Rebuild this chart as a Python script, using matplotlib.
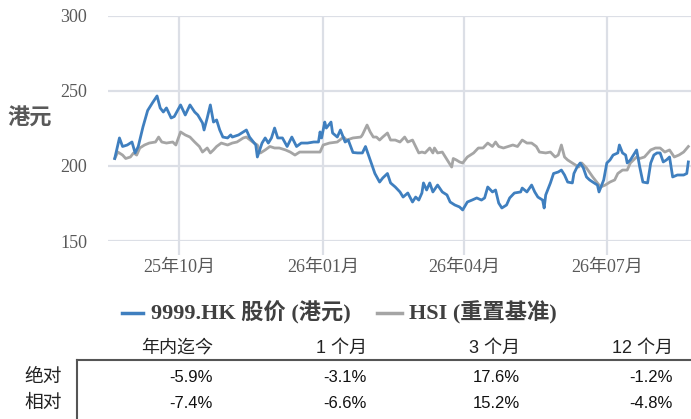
import numpy as np
import pandas as pd
import matplotlib
matplotlib.use('Agg')
from matplotlib import pyplot as plt
import matplotlib.dates as mdates

# days counted from 2025-10-01
stock_days = [-41, -38, -36, -33, -30, -28, -26, -23, -20, -17,
              -14, -12, -10, -8, -5, -3, 1, 4, 7, 10,
              12, 15, 16, 18, 20, 22, 24, 26, 28, 31,
              33, 34, 38, 41, 43, 45, 49, 50, 53, 55,
              57, 59, 61, 63, 66, 69, 72, 75, 78, 82,
              86, 89, 90, 91, 93, 94, 97, 98, 101, 103,
              106, 108, 111, 114, 117, 119, 122, 125, 128, 130,
              133, 135, 138, 141, 143, 146, 149, 151, 153, 155,
              156, 158, 160, 162, 165, 168, 171, 173, 176, 179,
              181, 184, 187, 190, 193, 195, 197, 200, 202, 204,
              206, 209, 211, 214, 218, 219, 222, 225, 227, 229,
              232, 233, 234, 237, 239, 242, 244, 246, 248, 251,
              252, 254, 256, 258, 260, 262, 264, 267, 268, 271,
              273, 275, 277, 280, 281, 283, 285, 286, 288, 290,
              292, 294, 296, 299, 301, 303, 305, 307, 309, 311,
              313, 315, 318, 322, 324, 325]
stock_price = [205, 218.7, 213, 214, 216, 208.7, 213, 226, 237, 242,
               246.7, 238.7, 236, 238.7, 232, 233, 240.7, 234, 240.7, 236,
               234, 228.7, 224, 232, 240.7, 229.3, 230.7, 224, 219.3, 218.7,
               220.7, 219.3, 220.7, 222.7, 224, 219.3, 214, 206, 215.3, 218.7,
               215.3, 218.7, 225.3, 218.7, 218.7, 213, 219.3, 213, 215.3, 215.3,
               216, 216, 222.7, 218.7, 229.3, 225.3, 229.3, 222, 219.3, 224,
               216, 217.3, 209, 208.7, 208.7, 213, 204, 195, 189.3, 192,
               195, 188.7, 186, 182.7, 179.3, 182, 176, 179.3, 177.3, 182,
               188.7, 184, 188.7, 182.7, 187.3, 182.7, 180.7, 176, 174, 172.7,
               170.7, 176, 177.3, 178.7, 177.3, 178.7, 186, 182.7, 184, 175.3,
               172, 174, 178.7, 182, 182.7, 185.3, 182.7, 187.3, 182.7, 179.3,
               177.3, 172, 180.7, 188.7, 195, 196, 197.3, 194, 189.3, 188.7,
               195, 199.3, 202, 198.7, 192.7, 190.7, 189.3, 187.3, 182.7, 190.7,
               202, 204, 207.3, 208.7, 214, 208.7, 207.3, 202, 204, 207.3,
               210.7, 199.3, 189.3, 188.7, 202, 207.3, 208.7, 208.7, 202.7, 204,
               206, 192.7, 194, 194, 195, 202.7]

hsi_days = [-41, -39, -36, -34, -31, -29, -27, -25, -22, -19,
            -15, -13, -11, -8, -4, -2, 1, 4, 7, 10,
            13, 15, 18, 20, 22, 24, 27, 31, 34, 37,
            41, 43, 47, 50, 52, 55, 58, 61, 64, 68,
            71, 74, 77, 80, 84, 87, 90, 92, 96, 101,
            105, 107, 111, 116, 117, 120, 122, 124, 126, 128,
            130, 133, 135, 138, 141, 144, 146, 149, 151, 153,
            155, 157, 160, 162, 163, 165, 168, 170, 172, 174,
            175, 177, 179, 181, 184, 188, 191, 194, 197, 200,
            202, 204, 207, 210, 213, 216, 219, 222, 225, 228,
            230, 234, 237, 240, 242, 244, 246, 248, 251, 255,
            257, 260, 264, 267, 269, 272, 275, 278, 280, 283,
            286, 288, 290, 292, 294, 297, 301, 304, 307, 310,
            313, 316, 319, 322, 325]
hsi_rebased = [205, 209.3, 207.3, 205, 206, 208.7, 207.3, 212, 214, 215.3,
               216, 219.3, 216, 215.3, 216, 214, 222.7, 220.7, 219.3, 216,
               213, 209.3, 212, 208.7, 210.7, 213, 215.3, 214, 215.3, 216,
               218.7, 219.3, 216, 214, 208.7, 210.7, 213, 212, 212, 210.7,
               209.3, 207.3, 209.3, 209.3, 209.3, 209.3, 209.3, 214, 215.3, 216,
               219.3, 217.3, 218.7, 219.3, 220.7, 227.3, 222.7, 219.3, 219.3, 217.3,
               219.3, 222, 217.3, 217.3, 216, 219.3, 216, 217.3, 213, 208.7,
               209.3, 208.7, 212, 208.7, 212, 208.7, 209.3, 206, 202.7, 199.3,
               205, 204, 202.7, 202, 206, 208.7, 212, 212, 215.3, 213,
               216, 213, 212, 213, 214, 213, 217.3, 215.3, 215.3, 213,
               209.3, 208.7, 209.3, 206, 207.3, 214, 206, 204, 202, 199.3,
               202, 198.7, 192.7, 188.7, 186, 187.3, 189.3, 190.7, 195, 197.3,
               197.3, 202, 204, 206, 205, 206, 210.7, 212, 212, 209.3,
               210.7, 206, 207.3, 209.3, 213]

periods = ['年内迄今', '1 个月', '3 个月', '12 个月']
row_names = ['绝对', '相对']
absolute_ret = ['-5.9%', '-3.1%', '17.6%', '-1.2%']
relative_ret = ['-7.4%', '-6.6%', '15.2%', '-4.8%']

base = pd.Timestamp('2025-10-01')
stock_dates = base + pd.to_timedelta(stock_days, unit='D')
hsi_dates = base + pd.to_timedelta(hsi_days, unit='D')

serif_cjk = ['Liberation Serif', 'Noto Sans CJK SC']
sans_cjk = ['Liberation Sans', 'Noto Sans CJK SC']
grid_c = '#dcdfe6'
blue = '#3f7fbf'
grey = '#a5a5a5'

W, H = 691, 419
fig = plt.figure(figsize=(W / 100, H / 100), dpi=100)
ax = fig.add_axes([108 / W, 1 - 241 / H, (W - 108) / W, 225 / H])

ax.plot(hsi_dates, hsi_rebased, color=grey, lw=2.0, solid_joinstyle='round')
ax.plot(stock_dates, stock_price, color=blue, lw=2.0, solid_joinstyle='round')

ax.set_ylim(150, 300)
ax.set_yticks([150, 200, 250, 300])
ax.set_xlim(base - pd.Timedelta(days=45.3), base + pd.Timedelta(days=326.7))
ax.xaxis.set_major_locator(mdates.MonthLocator(bymonth=[1, 4, 7, 10]))
ax.xaxis.set_major_formatter(mdates.DateFormatter('%y年%m月'))

ax.grid(True, color=grid_c, lw=1.6)
ax.set_axisbelow(True)
for s in ax.spines.values():
    s.set_visible(False)
ax.tick_params(axis='x', length=10, width=1.6, color=grid_c, pad=3,
               labelsize=13, labelcolor='#595959')
ax.tick_params(axis='y', length=0, pad=15, labelsize=13, labelcolor='#595959')
for lab in ax.get_xticklabels() + ax.get_yticklabels():
    lab.set_family(serif_cjk)

fig.text(30 / W, 1 - 119 / H, '港元', family=sans_cjk, fontsize=16, fontweight='bold',
         color='#595959', ha='center', va='center')

# legend
ly = 1 - 313 / H
fig.add_artist(plt.Line2D([122 / W, 143 / W], [ly, ly], color=blue, lw=2.5))
fig.text(151 / W, ly, '9999.HK 股价 (港元)', family=serif_cjk, fontsize=16,
         fontweight='bold', color='#404040', va='center')
fig.add_artist(plt.Line2D([377 / W, 402 / W], [ly, ly], color=grey, lw=2.5))
fig.text(409 / W, ly, 'HSI (重置基准)', family=serif_cjk, fontsize=16,
         fontweight='bold', color='#404040', va='center')

# returns table
col_right = [213, 367, 520, 673]
for x, p in zip(col_right, periods):
    fig.text(x / W, 1 - 348 / H, p, family=sans_cjk, fontsize=13, ha='right',
             va='center', color='#222222', fontweight='light')
for y, name, vals in zip([377, 403], row_names, [absolute_ret, relative_ret]):
    fig.text(43 / W, 1 - y / H, name, family=sans_cjk, fontsize=13.5, ha='center',
             va='center', color='#222222', fontweight='light')
    for x, v in zip(col_right, vals):
        fig.text(x / W, 1 - y / H, v, family=sans_cjk, fontsize=12, ha='right',
                 va='center', color='#111111')
fig.add_artist(plt.Line2D([77 / W, 1.0], [1 - 360 / H, 1 - 360 / H], color='#555555', lw=1.5))
fig.add_artist(plt.Line2D([77 / W, 77 / W], [1 - 360 / H, 1 - 418 / H], color='#555555', lw=1.5))

fig.savefig('out.png', dpi=100)
